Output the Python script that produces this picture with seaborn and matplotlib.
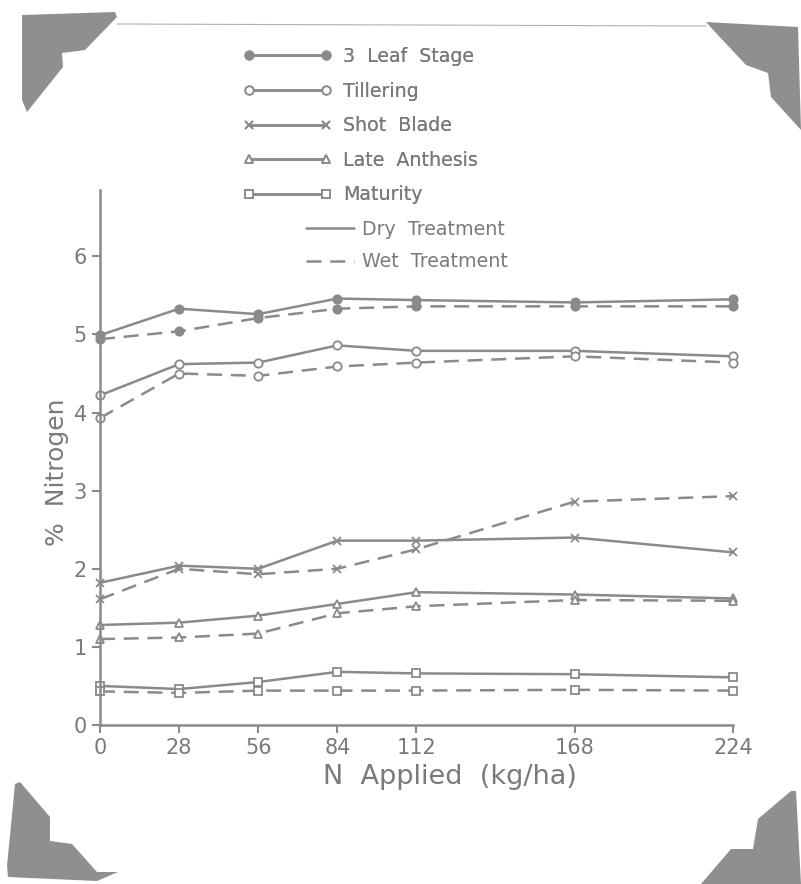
import matplotlib.pyplot as plt
import seaborn as sns
import pandas as pd
from matplotlib.lines import Line2D
from matplotlib.patches import Polygon

# values
n_applied = [0, 28, 56, 84, 112, 168, 224]
stages = ['3 Leaf Stage', 'Tillering', 'Shot Blade', 'Late Anthesis', 'Maturity']
treatments = ['Dry Treatment', 'Wet Treatment']

leaf3_dry = [4.99, 5.33, 5.26, 5.46, 5.44, 5.41, 5.45]
leaf3_wet = [4.94, 5.04, 5.21, 5.33, 5.36, 5.36, 5.36]
tiller_dry = [4.22, 4.62, 4.64, 4.86, 4.79, 4.79, 4.72]
tiller_wet = [3.93, 4.50, 4.47, 4.59, 4.64, 4.72, 4.64]
shot_dry = [1.82, 2.04, 2.00, 2.36, 2.36, 2.40, 2.21]
shot_wet = [1.61, 2.00, 1.93, 2.00, 2.25, 2.86, 2.93]
anth_dry = [1.28, 1.31, 1.40, 1.55, 1.70, 1.67, 1.62]
anth_wet = [1.10, 1.12, 1.17, 1.43, 1.52, 1.60, 1.59]
mat_dry = [0.50, 0.46, 0.55, 0.68, 0.66, 0.65, 0.61]
mat_wet = [0.43, 0.41, 0.44, 0.44, 0.44, 0.45, 0.44]

series = {
    ('3 Leaf Stage', 'Dry Treatment'): leaf3_dry,
    ('3 Leaf Stage', 'Wet Treatment'): leaf3_wet,
    ('Tillering', 'Dry Treatment'): tiller_dry,
    ('Tillering', 'Wet Treatment'): tiller_wet,
    ('Shot Blade', 'Dry Treatment'): shot_dry,
    ('Shot Blade', 'Wet Treatment'): shot_wet,
    ('Late Anthesis', 'Dry Treatment'): anth_dry,
    ('Late Anthesis', 'Wet Treatment'): anth_wet,
    ('Maturity', 'Dry Treatment'): mat_dry,
    ('Maturity', 'Wet Treatment'): mat_wet,
}
rows = []
for (stage, treat), vals in series.items():
    for n, v in zip(n_applied, vals):
        rows.append({'N': n, 'pct': v, 'stage': stage, 'treatment': treat})
df = pd.DataFrame(rows)

sns.set_theme(style='ticks')
plt.rcParams['font.family'] = ['DejaVu Sans']

ink = '#8a8a8a'
txt = '#7a7a7a'
markers = {
    '3 Leaf Stage': dict(marker='o', mfc=ink),
    'Tillering': dict(marker='o', mfc='white'),
    'Shot Blade': dict(marker='x', mfc=ink),
    'Late Anthesis': dict(marker='^', mfc='white'),
    'Maturity': dict(marker='s', mfc='white'),
}
styles = {'Dry Treatment': '-', 'Wet Treatment': (0, (6, 3.5))}

fig = plt.figure(figsize=(8.01, 8.84), dpi=100)
fig.patch.set_facecolor('white')
ax = fig.add_axes([0.1248, 0.1799, 0.7903, 0.6052])

for stage in stages:
    for treat in treatments:
        sub = df[(df['stage'] == stage) & (df['treatment'] == treat)]
        sns.lineplot(data=sub, x='N', y='pct', ax=ax, color=ink, lw=1.8,
                     linestyle=styles[treat], markersize=6, mec=ink, mew=1.3,
                     clip_on=False, **markers[stage])

ax.set_xlim(0, 224)
ax.set_ylim(0, 6.85)
ax.set_xticks(n_applied)
ax.set_yticks(range(7))
ax.set_xlabel('N  Applied  (kg/ha)', fontsize=19.5, color=txt)
ax.set_ylabel('%  Nitrogen', fontsize=18, color=txt)
ax.xaxis.set_label_coords(0.553, -0.0725)
ax.yaxis.set_label_coords(-0.049, 0.473)
ax.tick_params(colors=ink, labelcolor=txt, labelsize=15, width=1.5, length=6)
sns.despine(ax=ax)
for s in ['left', 'bottom']:
    ax.spines[s].set_color(ink)
    ax.spines[s].set_linewidth(1.8)

# legend: stages with markers at both ends, then treatments
stage_handles = [Line2D([], [], color=ink, lw=1.8, markersize=6, mec=ink, mew=1.3,
                        **markers[s]) for s in stages]
leg1 = fig.legend(stage_handles, [s.replace(' ', '  ') for s in stages],
                  loc='upper left', bbox_to_anchor=(0.3034, 0.9468), frameon=False,
                  numpoints=2, handlelength=4.65, handletextpad=0.6, borderpad=0,
                  borderaxespad=0, labelspacing=0.82, fontsize=13.7, labelcolor=txt)
treat_handles = [Line2D([], [], color=ink, lw=1.8, linestyle=styles[t]) for t in treatments]
leg2 = fig.legend(treat_handles, [t.replace(' ', '  ') for t in treatments],
                  loc='upper left', bbox_to_anchor=(0.382, 0.7511), frameon=False,
                  handlelength=2.5, handletextpad=0.46, borderpad=0, borderaxespad=0,
                  labelspacing=0.7, fontsize=13.7, labelcolor=txt)
fig.add_artist(leg1)

# photo mounting corners from the scan
W, H = 801, 884
corners = [
    [(22, 15), (115, 12), (117, 17), (85, 50), (62, 53), (63, 67), (27, 112), (22, 100)],
    [(706, 22), (724, 23), (798, 27), (801, 130), (771, 97), (768, 73), (746, 65), (716, 33)],
    [(15, 784), (20, 782), (50, 817), (50, 841), (72, 844), (97, 872), (118, 872),
     (97, 881), (8, 877), (7, 866)],
    [(701, 884), (731, 849), (753, 849), (758, 819), (791, 791), (796, 791), (801, 884)],
]
for pts in corners:
    fig.patches.append(Polygon([(x / W, 1 - y / H) for x, y in pts], closed=True,
                               transform=fig.transFigure, facecolor='#8f8f8f',
                               edgecolor='none'))
fig.add_artist(Line2D([117 / W, 706 / W], [1 - 24 / H, 1 - 26 / H], color='#b0b0b0',
                      lw=0.8, transform=fig.transFigure))

plt.savefig('out.png', dpi=100, facecolor='white')
plt.close()
